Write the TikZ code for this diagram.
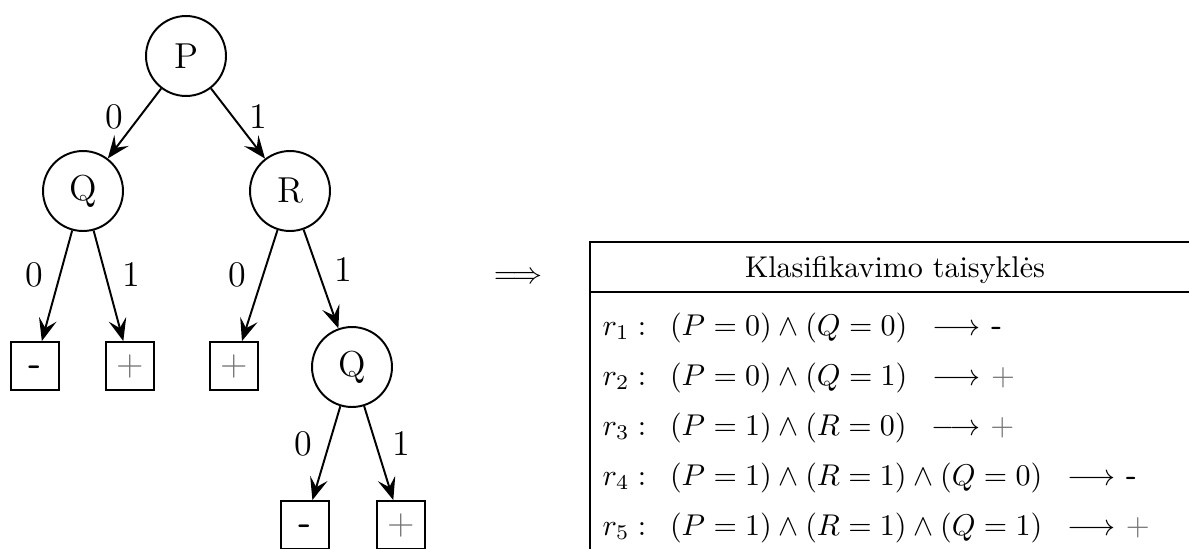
\documentclass[tikz,border=0pt]{standalone}
\usepackage{amsmath}
\usetikzlibrary{arrows.meta}
\newcommand{\clsneg}{\textsf{\textbf{-}}}
\newcommand{\clspos}{\textcolor{black!55}{+}}
\begin{document}
\begin{tikzpicture}[x=0.0117cm,y=-0.0117cm,
  inner/.style={circle,draw,line width=0.65pt,minimum size=0.936cm,inner sep=0pt,font=\large},
  leaf/.style={rectangle,draw,line width=0.65pt,minimum size=0.56cm,inner sep=0pt,font=\large,
    text height=0.7em,text depth=0.1em},
  edge/.style={line width=0.65pt,-{Stealth[length=7.5pt,width=6pt,inset=3pt]}},
  lab/.style={font=\large,pos=0.4},
  rule/.style={anchor=base west,inner sep=0pt,font=\fontsize{10.25}{12}\selectfont}]
\path[use as bounding box,clip] (0,0) rectangle (1189,549);
% tree
\node[inner] (nP) at (186,56) {P};
\node[inner] (nQ) at (83,191) {Q};
\node[inner] (nR) at (290,191) {R};
\node[inner] (nQb) at (352,367) {Q};
\node[leaf] (l1) at (35,366) {\clsneg};
\node[leaf] (l2) at (130,366) {\clspos};
\node[leaf] (l3) at (234,366) {\clspos};
\node[leaf] (l4) at (305,525) {\clsneg};
\node[leaf] (l5) at (401,525) {\clspos};
\foreach \a/\b/\v/\s in {nP/nQ/0/left,nP/nR/1/right,nQ/l1/0/left,nQ/l2/1/right,nR/l3/0/left,nR/nQb/1/right,nQb/l4/0/left,nQb/l5/1/right}
  \draw[edge] (\a) -- (\b) node[lab,\s=2pt] {\v};
\node (imp) at (518,278) {$\Longrightarrow$};
% rules table
\draw (1200,242) -- (590,242) -- (590,560);
\draw (590,292) -- (1200,292);
\node[anchor=base] (head) at (895,277) {Klasifikavimo taisyklės};
\node[rule] (r1) at (602,335) {$r_1:\enskip(P=0)\wedge(Q=0)\;\;\longrightarrow$\ \clsneg};
\node[rule] (r2) at (602,385) {$r_2:\enskip(P=0)\wedge(Q=1)\;\;\longrightarrow$\ \clspos};
\node[rule] (r3) at (602,435) {$r_3:\enskip(P=1)\wedge(R=0)\;\;\longrightarrow$\ \clspos};
\node[rule] (r4) at (602,485) {$r_4:\enskip(P=1)\wedge(R=1)\wedge(Q=0)\;\;\longrightarrow$\ \clsneg};
\node[rule] (r5) at (602,535) {$r_5:\enskip(P=1)\wedge(R=1)\wedge(Q=1)\;\;\longrightarrow$\ \clspos};
\end{tikzpicture}
\end{document}
